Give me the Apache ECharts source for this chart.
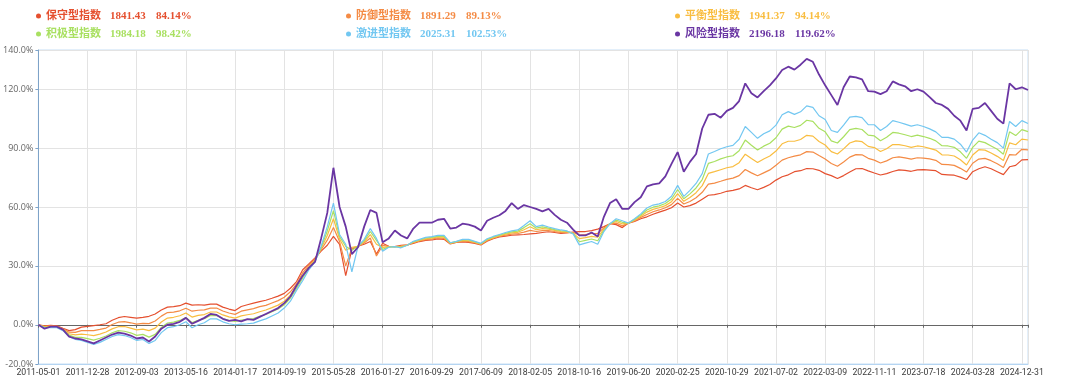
<!DOCTYPE html>
<html><head><meta charset="utf-8">
<script src="https://cdn.jsdelivr.net/npm/echarts@6/dist/echarts.min.js"></script>
<style>html,body{margin:0;padding:0;background:#fff}#c{width:1080px;height:383px}</style>
</head><body><div id="c"></div>
<script>
// x-axis tick labels (one every 8 samples)
const xTicks = ['2011-05-01','2011-12-28','2012-09-03','2013-05-16','2014-01-17','2014-09-19','2015-05-28','2016-01-27','2016-09-29','2017-06-09','2018-02-05','2018-10-16','2019-06-20','2020-02-25','2020-10-29','2021-07-02','2022-03-09','2022-11-11','2023-07-18','2024-03-28','2024-12-31'];
// y-axis tick values
const yTicks = [-20, 0, 30, 60, 90, 120, 140];
const seriesNames = ['保守型指数','防御型指数','平衡型指数','积极型指数','激进型指数','风险型指数'];
const seriesColors = ['#e5502f','#f48b45','#f9bd40','#a9e061','#72c7f1','#6a36a3'];
const legendValues = ['1841.43','1891.29','1941.37','1984.18','2025.31','2196.18'];
const legendPcts = ['84.14%','89.13%','94.14%','98.42%','102.53%','119.62%'];

const conservative = [0,-0.5,-0.3,-0.5,-1.8,-3,-2.5,-1.2,
-0.8,-0.4,0,0.5,2.3,3.6,4.2,3.8,
3.4,3.8,4.3,5.5,7.5,9,9.2,9.7,
11,10,10.2,10,10.5,10.5,9,8,
7.2,9.3,10.2,11,11.8,12.5,13.5,14.6,
16,18.6,22,28,31,34,37.5,40.5,
45,41,25,38.5,40,41,42.4,36,
41.5,40,39.8,40.5,40.7,41.5,42.4,43,
43.2,43.8,43.5,41.2,41.9,42.2,42,41.5,
40.7,42.6,43.8,44.7,45.2,45.6,45.8,46,
46.3,46.6,47,47.4,47,46.6,46.8,47.2,
47.5,47.5,48,48.7,50,51.5,51,49.5,
51.8,52.6,54,55,56.3,57.4,58.4,59.6,
62,60,60.7,62,64,66,66.3,67,
68,68.5,69.2,71,69.8,68.8,70,71.5,
73.7,75.4,76.4,78,78.5,79.6,79.5,78.7,
77,76,74.5,76,77.8,79.5,79.6,78.4,
77.3,76.3,77,78.1,78.9,78.7,78.2,78.9,
79,78.8,78.5,76.6,76.4,76.2,75.2,74,
78,79.5,80.5,79.5,78,76.5,80.5,81.2,
84,84.14];

const defensive = [0,-0.8,-0.6,-0.8,-2.1,-3.8,-3.9,-3.0,
-3.0,-3.0,-2.4,-1.7,0.1,1.3,1.6,1.0,
0.3,0.7,0.6,1.9,4.4,6.2,6.4,7.1,
8.4,6.9,7.4,7.6,8.5,8.5,7.0,6.0,
5.3,6.9,7.6,8.2,9.2,9.9,11.1,12.3,
14.0,16.8,20.8,26.5,30.2,33.5,38.2,43.1,
49.6,42.4,30,39,40,41.7,44.2,35,
40.4,39.9,39.8,40.1,40.6,41.8,42.7,43.4,
43.7,44.3,44.0,41.4,42.1,42.6,42.4,41.8,
40.9,42.9,44.1,45.1,45.7,46.2,46.5,47.2,
48.1,47.5,48.0,48.0,47.5,47.1,47.1,47.0,
45.7,45.9,46.5,46.6,49.3,51.5,51.8,50.4,
51.8,53.0,54.7,56.2,57.6,58.5,59.6,61.2,
64.4,61.5,62.8,64.7,67.5,71.7,72.2,73.1,
74.1,74.7,76.0,79.1,77.4,75.9,77.4,78.9,
81.3,83.9,85.1,85.9,86.6,88.2,88.0,86.2,
84.5,82.2,80.8,82.9,85.4,86.7,86.6,84.8,
83.9,82.4,83.5,85.1,85.5,85.0,84.4,85.1,
84.9,84.5,83.8,81.7,81.6,81.2,79.7,77.8,
82.3,84.4,84.8,83.6,82.0,80.1,86.7,86.5,
89.4,89.13];

const balanced = [0,-1.0,-0.9,-1.0,-2.4,-4.6,-5.2,-4.8,
-5.1,-5.5,-4.8,-3.7,-2.1,-1.0,-0.9,-1.7,
-2.6,-2.2,-3.0,-1.7,1.4,3.4,3.8,4.6,
6.0,3.9,4.8,5.2,6.5,6.5,5.0,4.0,
3.4,4.5,5.1,5.6,6.6,7.5,8.7,10.0,
12.0,15.1,19.6,25.1,29.4,32.9,38.8,45.5,
54.0,43.7,38,39.5,40,42.3,45.9,41,
39.4,39.7,39.8,39.8,40.6,42.0,43.0,43.8,
44.1,44.7,44.6,41.5,42.2,42.9,42.8,42.0,
41.1,43.2,44.4,45.4,46.2,46.8,47.1,48.4,
49.9,48.4,49.0,48.7,48.1,47.5,47.3,46.7,
43.9,44.4,45.0,44.6,48.7,51.5,52.6,51.4,
51.8,53.3,55.3,57.4,58.8,59.6,60.7,62.7,
66.8,62.9,64.8,67.3,70.9,77.1,78.0,79.0,
80.0,80.6,82.6,86.9,84.7,82.7,84.5,86.0,
88.5,92.2,93.5,93.5,94.4,96.5,96.1,93.4,
91.6,88.2,87.0,89.6,92.6,93.7,93.3,90.9,
90.3,88.3,89.7,91.8,91.8,91.2,90.4,91.1,
90.7,89.9,89.0,86.6,86.5,86.0,84.1,81.4,
86.5,89.2,89.0,87.5,85.8,83.7,92.7,91.7,
94.6,94.14];

const active = [0,-1.3,-1.2,-1.3,-2.7,-5.3,-6.4,-6.4,
-7.1,-7.8,-6.9,-5.7,-4.1,-3.0,-3.3,-4.1,
-5.4,-4.9,-6.3,-4.9,-1.4,0.9,1.3,2.2,
3.7,1.1,2.3,3.1,4.7,4.7,3.2,2.2,
1.7,2.4,2.7,3.1,4.3,5.2,6.6,8.0,
10.2,13.5,18.5,23.8,28.7,32.5,39.4,47.8,
58.1,44.9,40,38,40,42.9,47.5,43,
38.4,39.6,39.8,39.5,40.5,42.3,43.2,44.2,
44.5,45.1,45.0,41.7,42.4,43.2,43.2,42.3,
41.3,43.5,44.7,45.7,46.6,47.3,47.7,49.5,
51.5,49.2,49.9,49.2,48.5,47.9,47.6,46.5,
42.3,43.0,43.7,42.8,48.1,51.5,53.3,52.2,
51.8,53.7,55.9,58.5,59.9,60.6,61.8,64.1,
68.9,64.2,66.7,69.7,74.0,82.2,83.2,84.5,
85.5,86.1,88.7,94.1,91.5,89.0,91.0,92.5,
95.3,99.7,101.2,100.5,101.6,104.2,103.6,100.1,
98.3,93.7,92.6,95.8,99.4,100.1,99.5,96.6,
96.2,93.8,95.5,98.0,97.6,96.8,95.9,96.6,
95.9,95.0,93.7,91.2,91.1,90.4,88.1,84.8,
90.4,93.6,92.8,91.1,89.4,86.9,98.3,96.4,
99.4,98.42];

const aggressive = [0,-1.5,-1.5,-1.5,-3,-6,-7.5,-8,
-9,-10,-9,-7.5,-6,-5,-5.5,-6.5,
-8,-7.5,-9.5,-8,-4,-1.5,-1,0,
1.5,-1.5,0,1,3,3,1.5,0.5,
0,0.3,0.5,0.8,2,3,4.5,6,
8.5,12,17.5,22.5,28,32,40,50,
62,46,41,27,40,43.5,49,44,
37.5,39.5,39.8,39.2,40.5,42.5,43.5,44.5,
44.9,45.5,45.5,41.8,42.5,43.5,43.5,42.5,
41.5,43.8,45,46,47,47.8,48.3,50.6,
53,50,50.8,49.8,49,48.3,47.8,46.3,
40.7,41.6,42.4,41,47.5,51.5,54,53,
51.8,54,56.5,59.5,61,61.6,62.8,65.5,
71,65.4,68.5,72,77,87,88.3,89.7,
90.7,91.4,94.5,101,98,95,97.3,98.8,
101.7,107,108.6,107.2,108.5,111.5,110.8,106.5,
104.6,99,98,101.7,105.8,106.2,105.5,102,
101.9,99,101,104,103.2,102.2,101.2,101.9,
101,99.8,98.3,95.5,95.5,94.6,92,88,
94.1,97.8,96.5,94.5,92.8,90,103.6,101,
104,102.53];

const risk = [0,-2,-1,-1,-2.5,-6,-7,-7.5,
-8.5,-9.5,-8,-6.5,-5,-4,-4.5,-5.5,
-7,-6.5,-8.5,-6,-2,0,0.5,1.5,
3.5,0.5,2,3.5,5.5,5,3,2,
2.5,1.7,2.9,2.5,4,5.5,7,8.5,
11,14.4,20,25,29,32,44,57,
80,60,50,36,39.5,50,58.5,57,
42,44,48,45.5,44,49,52,52,
52,53.5,54,49,49.5,51.5,51,50,
48,53,54.5,55.8,58,62,59,61,
60,59,57.8,59,56,53.5,52,48.5,
45.5,45.5,47,45,55,62,64,59,
59,62.5,65,70.5,71.5,72,75.6,82,
88,78,83,87,100,107,107.5,105.5,
109,110.5,114,123,118,115.8,119,122,
125.5,129.8,131.5,130,132.5,135.5,134,127.5,
122,117,112,121,126.5,126,125,119,
118.8,117.5,119,124,122.5,121.5,119,120,
118.8,116,113,112,110,106.5,104,99,
110,110.5,113,109,105,102.5,123,120,
121,119.62];

const allData = [conservative, defensive, balanced, active, aggressive, risk];
const SUB = 8; // samples per x tick interval
const lastIdx = conservative.length - 1;

const chart = echarts.init(document.getElementById('c'));
const legendFont = "'Liberation Serif','Noto Sans CJK SC',serif";
function makeLegend(idxs, left) {
  return {
    orient: 'vertical', left: left, top: 4, itemGap: 4,
    icon: 'circle', itemWidth: 5, itemHeight: 5,
    selectedMode: false,
    data: idxs.map(i => ({name: seriesNames[i], textStyle: {color: seriesColors[i]}})),
    formatter: name => {
      const i = seriesNames.indexOf(name);
      return '{n|' + name + '}{v|' + legendValues[i] + '}{p|' + legendPcts[i] + '}';
    },
    textStyle: {
      fontFamily: legendFont, fontWeight: 'bold', fontSize: 11, lineHeight: 14,
      rich: {
        n: {width: 64, fontFamily: legendFont, fontWeight: 'bold', fontSize: 11},
        v: {width: 46, fontFamily: legendFont, fontWeight: 'bold', fontSize: 11},
        p: {fontFamily: legendFont, fontWeight: 'bold', fontSize: 11}
      }
    }
  };
}

chart.setOption({
  animation: false,
  backgroundColor: '#fff',
  legend: [makeLegend([0,3], 31), makeLegend([1,4], 341), makeLegend([2,5], 670)],
  grid: {left: 35, right: 52, top: 50, bottom: 19, show: true, borderColor: '#c6dff5', borderWidth: 1},
  xAxis: [{
    type: 'value', min: 0, max: lastIdx, interval: SUB, position: 'bottom',
    axisLine: {onZero: false, lineStyle: {color: '#b5d5f2'}},
    axisTick: {show: false},
    splitLine: {show: true, lineStyle: {color: '#e3e3e3'}},
    axisLabel: {
      color: '#3a3a3a', fontSize: 8.7, fontFamily: "Roboto,sans-serif", margin: 4,
      showMinLabel: true, hideOverlap: false,
      formatter: v => (v % SUB === 0 && xTicks[v / SUB]) ? xTicks[v / SUB] : ''
    }
  }, {
    type: 'value', min: 0, max: lastIdx, interval: SUB, position: 'top',
    axisLine: {onZero: true, lineStyle: {color: '#666'}},
    axisTick: {show: true, inside: true, length: 3, lineStyle: {color: '#666'}},
    axisLabel: {show: false}, splitLine: {show: false}
  }],
  yAxis: {
    type: 'value', min: -20, max: 140,
    axisLine: {show: true, onZero: false, lineStyle: {color: '#7ea3c8'}},
    axisTick: {show: true, length: 3, customValues: yTicks, lineStyle: {color: '#7ea3c8'}},
    splitLine: {show: true, lineStyle: {color: '#e3e3e3'}},
    axisLabel: {color: '#666', fontSize: 9, fontFamily: "'Open Sans',sans-serif", margin: 5,
      customValues: yTicks,
      formatter: v => v.toFixed(1) + '%'}
  },
  series: allData.map((arr, k) => ({
    name: seriesNames[k], type: 'line', xAxisIndex: 0,
    showSymbol: false, symbol: 'none',
    color: seriesColors[k],
    lineStyle: {width: k === 5 ? 1.8 : 1.2, color: seriesColors[k]},
    data: arr.map((v, i) => [i, v])
  }))
});
</script></body></html>
